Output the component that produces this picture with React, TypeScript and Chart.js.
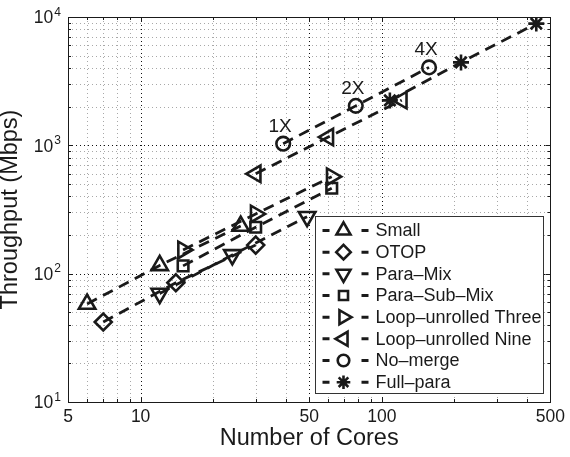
import React, { useEffect, useRef } from 'react';
import { Chart, registerables } from 'chart.js';
import { drawPoint } from 'chart.js/helpers';

Chart.register(...registerables);

// ---------- data ----------
const seriesNames = [
  'Small',
  'OTOP',
  'Para\u2013Mix',
  'Para\u2013Sub\u2013Mix',
  'Loop\u2013unrolled Three',
  'Loop\u2013unrolled Nine',
  'No\u2013merge',
  'Full\u2013para',
];

const smallCores = [6, 12, 26];
const smallMbps = [58, 116, 235];

const otopCores = [7, 14, 30];
const otopMbps = [42, 85, 167];

const paraMixCores = [12, 24, 49];
const paraMixMbps = [70, 140, 278];

const paraSubMixCores = [15, 30, 62];
const paraSubMixMbps = [115, 230, 463];

const loop3Cores = [15, 30, 62];
const loop3Mbps = [153, 292, 570];

const loop9Cores = [30, 60, 121];
const loop9Mbps = [600, 1160, 2250];

const noMergeCores = [39, 78, 157];
const noMergeMbps = [1030, 2030, 4050];
const noMergeLabels = ['1X', '2X', '4X'];

const fullParaCores = [108, 213, 437];
const fullParaMbps = [2240, 4430, 8880];

const xLabelTicks = [5, 10, 50, 100, 500];
const xMinorTicks = [6, 7, 8, 9, 20, 30, 40, 60, 70, 80, 90, 200, 300, 400];
const yMajorTicks = [10, 100, 1000, 10000];
const yMinorTicks = [
  20, 30, 40, 50, 60, 70, 80, 90,
  200, 300, 400, 500, 600, 700, 800, 900,
  2000, 3000, 4000, 5000, 6000, 7000, 8000, 9000,
];

const seriesCores = [smallCores, otopCores, paraMixCores, paraSubMixCores, loop3Cores, loop9Cores, noMergeCores, fullParaCores];
const seriesMbps = [smallMbps, otopMbps, paraMixMbps, paraSubMixMbps, loop3Mbps, loop9Mbps, noMergeMbps, fullParaMbps];

// ---------- styles ----------
const INK = '#1a1a1a';
const FONT = "'Liberation Sans', Arial, Helvetica, sans-serif";
const markerStyles = [
  { style: 'triangle', rot: 0, r: 9.5 },
  { style: 'rectRot', rot: 0, r: 8.5 },
  { style: 'triangle', rot: 180, r: 9.5 },
  { style: 'rect', rot: 0, r: 7.5 },
  { style: 'triangle', rot: 90, r: 9.5 },
  { style: 'triangle', rot: 270, r: 9.5 },
  { style: 'circle', rot: 0, r: 6.8 },
  { style: 'star', rot: 0, r: 8 },
];

const matlabPlugin = {
  id: 'matlabLook',
  beforeDatasetsDraw(chart: any) {
    const { ctx, chartArea: a, scales } = chart;
    const x = scales.x;
    const y = scales.y;
    ctx.save();
    ctx.lineWidth = 1;
    ctx.setLineDash([1, 3]);
    const xGrid = [...xMinorTicks, ...xLabelTicks.filter((v) => v > 5 && v < 500)];
    for (const v of xGrid) {
      const px = Math.round(x.getPixelForValue(v)) + 0.5;
      ctx.strokeStyle = xLabelTicks.includes(v) ? '#111' : '#a8a8a8';
      ctx.beginPath();
      ctx.moveTo(px, a.top);
      ctx.lineTo(px, a.bottom);
      ctx.stroke();
    }
    const yGrid = [...yMinorTicks, ...yMajorTicks.filter((v) => v > 10 && v < 10000)];
    for (const v of yGrid) {
      const py = Math.round(y.getPixelForValue(v)) + 0.5;
      ctx.strokeStyle = yMajorTicks.includes(v) ? '#111' : '#a8a8a8';
      ctx.beginPath();
      ctx.moveTo(a.left, py);
      ctx.lineTo(a.right, py);
      ctx.stroke();
    }
    ctx.setLineDash([]);
    ctx.strokeStyle = INK;
    for (const v of [...xMinorTicks, ...xLabelTicks]) {
      const px = Math.round(x.getPixelForValue(v)) + 0.5;
      const len = xLabelTicks.includes(v) ? 5 : 3;
      ctx.beginPath();
      ctx.moveTo(px, a.bottom);
      ctx.lineTo(px, a.bottom - len);
      ctx.moveTo(px, a.top);
      ctx.lineTo(px, a.top + len);
      ctx.stroke();
    }
    for (const v of [...yMinorTicks, ...yMajorTicks]) {
      const py = Math.round(y.getPixelForValue(v)) + 0.5;
      const len = yMajorTicks.includes(v) ? 5 : 3;
      ctx.beginPath();
      ctx.moveTo(a.left, py);
      ctx.lineTo(a.left + len, py);
      ctx.moveTo(a.right, py);
      ctx.lineTo(a.right - len, py);
      ctx.stroke();
    }
    ctx.strokeRect(Math.round(a.left) + 0.5, Math.round(a.top) + 0.5, Math.round(a.right - a.left), Math.round(a.bottom - a.top));
    ctx.restore();
  },
  afterDatasetsDraw(chart: any) {
    const { ctx, chartArea: a } = chart;
    ctx.save();
    const meta = chart.getDatasetMeta(6);
    ctx.fillStyle = INK;
    ctx.font = `19px ${FONT}`;
    ctx.textAlign = 'center';
    ctx.textBaseline = 'alphabetic';
    meta.data.forEach((pt: any, i: number) => {
      ctx.fillText(noMergeLabels[i], pt.x - 3, pt.y - 12);
    });

    // legend
    const w = 228;
    const h = 177;
    const lx = Math.round(a.right - 7 - w) + 0.5;
    const ly = Math.round(a.bottom - 9 - h) + 0.5;
    ctx.fillStyle = '#fff';
    ctx.fillRect(lx, ly, w, h);
    ctx.strokeStyle = '#333';
    ctx.lineWidth = 1;
    ctx.strokeRect(lx, ly, w, h);
    const step = 21.67;
    chart.data.datasets.forEach((ds: any, i: number) => {
      const yc = ly + 14 + i * step;
      const x0 = lx + 7;
      ctx.strokeStyle = INK;
      ctx.lineWidth = 3;
      ctx.setLineDash([]);
      ctx.beginPath();
      ctx.moveTo(x0, yc);
      ctx.lineTo(x0 + 7, yc);
      ctx.moveTo(x0 + 39, yc);
      ctx.lineTo(x0 + 46, yc);
      ctx.stroke();
      const m = markerStyles[i];
      ctx.lineWidth = 2.6;
      ctx.fillStyle = 'rgba(0,0,0,0)';
      drawPoint(ctx, { pointStyle: m.style, rotation: m.rot, radius: m.r * 0.85, borderWidth: 2.6 } as any, x0 + 21, yc);
      ctx.fillStyle = INK;
      ctx.font = `18px ${FONT}`;
      ctx.textAlign = 'left';
      ctx.textBaseline = 'middle';
      ctx.fillText(ds.label, lx + 60, yc + 1);
    });
    ctx.restore();
  },
  afterDraw(chart: any) {
    const { ctx, scales } = chart;
    const y = scales.y;
    ctx.save();
    ctx.fillStyle = INK;
    ctx.textBaseline = 'middle';
    ctx.textAlign = 'right';
    const right = 61;
    for (const v of yMajorTicks) {
      const py = y.getPixelForValue(v);
      const exp = String(Math.round(Math.log10(v)));
      ctx.font = `12px ${FONT}`;
      const ew = ctx.measureText(exp).width;
      ctx.fillText(exp, right, py - 4.5);
      ctx.font = `17.5px ${FONT}`;
      ctx.fillText('10', right - ew - 1, py + 1.5);
    }
    ctx.restore();
  },
};

export default function App() {
  const ref = useRef<HTMLCanvasElement>(null);
  useEffect(() => {
    const canvas = ref.current;
    if (!canvas) return;
    const datasets = seriesNames.map((name, i) => ({
      label: name,
      data: seriesCores[i].map((c, j) => ({ x: c, y: seriesMbps[i][j] })),
      borderColor: INK,
      borderWidth: 2.8,
      borderDash: [11, 7],
      pointStyle: markerStyles[i].style,
      pointRotation: markerStyles[i].rot,
      pointRadius: markerStyles[i].r,
      pointBorderColor: INK,
      pointBackgroundColor: 'rgba(0,0,0,0)',
      pointBorderWidth: 2.6,
      fill: false,
      tension: 0,
    }));
    const chart = new Chart(canvas, {
      type: 'line',
      data: { datasets } as any,
      plugins: [matlabPlugin as any],
      options: {
        animation: false,
        responsive: false,
        devicePixelRatio: 1,
        events: [],
        layout: { padding: { top: 17, right: 15, left: 0, bottom: 0 } },
        plugins: { legend: { display: false }, tooltip: { enabled: false } },
        scales: {
          x: {
            type: 'logarithmic',
            min: 5,
            max: 500,
            afterBuildTicks: (s: any) => {
              s.ticks = [...xLabelTicks, ...xMinorTicks].sort((p, q) => p - q).map((v) => ({ value: v }));
            },
            afterFit: (s: any) => {
              s.height = 55;
            },
            grid: { display: false, drawTicks: false },
            border: { display: false },
            ticks: {
              autoSkip: false,
              maxRotation: 0,
              minRotation: 0,
              padding: 5,
              color: INK,
              font: { family: FONT, size: 17.5 },
              callback: (v: any) => (xLabelTicks.includes(Number(v)) ? String(v) : ''),
            },
            title: {
              display: true,
              text: 'Number of Cores',
              color: INK,
              font: { family: FONT, size: 23.5, lineHeight: 1 },
              padding: { top: 0, bottom: 7 },
            },
          },
          y: {
            type: 'logarithmic',
            min: 10,
            max: 10000,
            afterBuildTicks: (s: any) => {
              s.ticks = [...yMajorTicks, ...yMinorTicks].sort((p, q) => p - q).map((v) => ({ value: v }));
            },
            afterFit: (s: any) => {
              s.width = 68;
            },
            grid: { display: false, drawTicks: false },
            border: { display: false },
            ticks: { display: false },
            title: {
              display: true,
              text: 'Throughput (Mbps)',
              color: INK,
              font: { family: FONT, size: 23.5, lineHeight: 1 },
              padding: { top: -1, bottom: 0 },
            },
          },
        },
      } as any,
    });
    return () => chart.destroy();
  }, []);
  return (
    <div style={{ position: 'fixed', left: 0, top: 0, width: 570, height: 457, background: '#fff' }}>
      <canvas ref={ref} width={570} height={457} style={{ width: 570, height: 457, display: 'block' }} />
    </div>
  );
}
